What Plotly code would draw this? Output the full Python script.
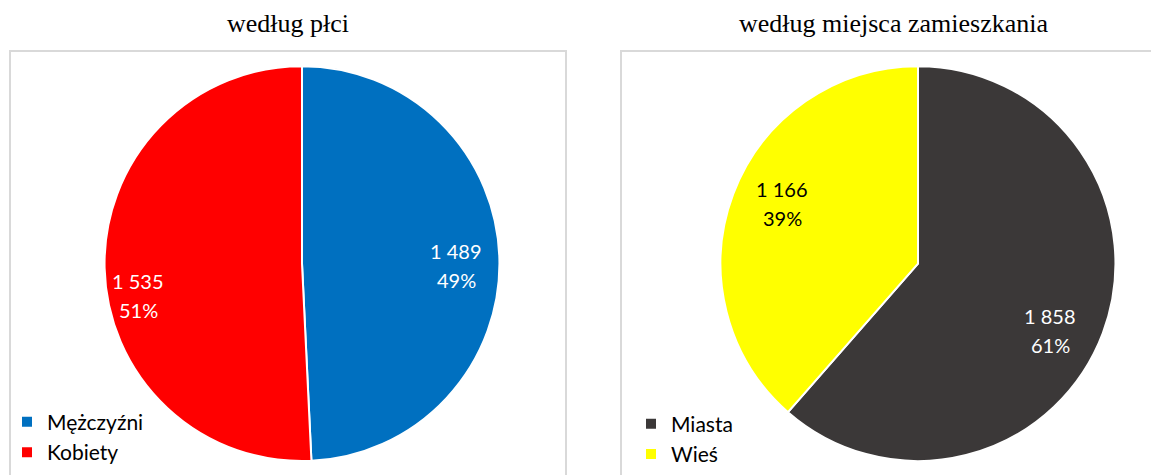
import math

import plotly.graph_objects as go

# data
sex_labels = ["Mężczyźni", "Kobiety"]
sex_values = [1489, 1535]

place_labels = ["Miasta", "Wieś"]
place_values = [1858, 1166]

titles = ["według płci", "według miejsca zamieszkania"]

# styles
sex_colors = ["#0070C0", "#FF0000"]
sex_text_colors = ["white", "white"]
place_colors = ["#3B3838", "#FFFF00"]
place_text_colors = ["white", "black"]

W, H = 1151, 475
label_font = "Lato, 'Open Sans', sans-serif"
title_font = "'Liberation Serif', 'Times New Roman', serif"


def px_x(x):
    return x / W


def px_y(y):
    return min(1.0, max(0.0, 1 - y / H))


# pie geometry in screen pixels: centre x, centre y, radius
pies = [
    dict(cx=302, cy=267, r=199, labels=sex_labels, values=sex_values,
         colors=sex_colors, text_colors=sex_text_colors,
         label_r=[0.775, 0.84], label_shift=[2, -10], legend="legend"),
    dict(cx=918, cy=267, r=199, labels=place_labels, values=place_values,
         colors=place_colors, text_colors=place_text_colors,
         label_r=[0.75, 0.75], label_shift=[7, 4], legend="legend2"),
]
PAD = 4  # plotly draws the pie a little inside its domain
DY = 4

fig = go.Figure()
annotations = []

for p in pies:
    fig.add_trace(
        go.Pie(
            labels=p["labels"],
            values=p["values"],
            sort=False,
            direction="clockwise",
            rotation=0,
            marker=dict(colors=p["colors"], line=dict(color="white", width=2)),
            textinfo="none",
            domain=dict(
                x=[px_x(p["cx"] - p["r"] - PAD), px_x(p["cx"] + p["r"] + PAD)],
                y=[px_y(p["cy"] + p["r"] + PAD + DY), px_y(p["cy"] - p["r"] - PAD + DY)],
            ),
            legend=p["legend"],
            hoverinfo="label+value+percent",
        )
    )
    # data labels placed from the slice angles
    total = sum(p["values"])
    start = 0.0
    for i, v in enumerate(p["values"]):
        span = v / total * 360
        ang = math.radians(start + span / 2 + p["label_shift"][i])
        start += span
        rr = p["r"] * p["label_r"][i]
        x = p["cx"] + rr * math.sin(ang)
        y = p["cy"] - rr * math.cos(ang) + 4
        value_txt = f"{v:,}".replace(",", " ")
        pct_txt = f"{round(v / total * 100)}%"
        for txt, dy in [(value_txt, 14.5), (pct_txt, -14.5)]:
            annotations.append(
                dict(text=txt, x=px_x(x), y=px_y(y), xref="paper", yref="paper",
                     xanchor="center", yanchor="middle", yshift=dy, showarrow=False,
                     font=dict(size=20, family=label_font, color=p["text_colors"][i]))
            )

annotations += [
    dict(text=titles[0], x=px_x(288), y=px_y(24), xref="paper", yref="paper",
         xanchor="center", yanchor="middle", showarrow=False,
         font=dict(size=26, family=title_font, color="black")),
    dict(text=titles[1], x=px_x(893), y=px_y(24), xref="paper", yref="paper",
         xanchor="center", yanchor="middle", showarrow=False,
         font=dict(size=26, family=title_font, color="black")),
]

legend_style = dict(
    font=dict(size=21, family=label_font, color="black"),
    bgcolor="rgba(0,0,0,0)",
    yanchor="top",
    xanchor="left",
    itemclick=False,
    itemdoubleclick=False,
)

fig.update_layout(
    width=W,
    height=H,
    margin=dict(l=0, r=0, t=0, b=0),
    paper_bgcolor="white",
    plot_bgcolor="white",
    legend=dict(x=px_x(7), y=px_y(413), **legend_style),
    legend2=dict(x=px_x(631), y=px_y(415), **legend_style),
    shapes=[
        dict(type="rect", xref="paper", yref="paper",
             x0=px_x(10), x1=px_x(566), y0=-0.1, y1=px_y(52.5),
             line=dict(color="#D9D9D9", width=2), layer="below"),
        dict(type="rect", xref="paper", yref="paper",
             x0=px_x(621), x1=1.1, y0=-0.1, y1=px_y(52.5),
             line=dict(color="#D9D9D9", width=2), layer="below"),
    ],
    annotations=annotations,
)

# drop the default page margin so the chart fills the window exactly
fig.write_html(
    "out.html",
    config={"displayModeBar": False},
    post_script="document.body.style.margin='0';document.body.style.overflow='hidden';",
)
